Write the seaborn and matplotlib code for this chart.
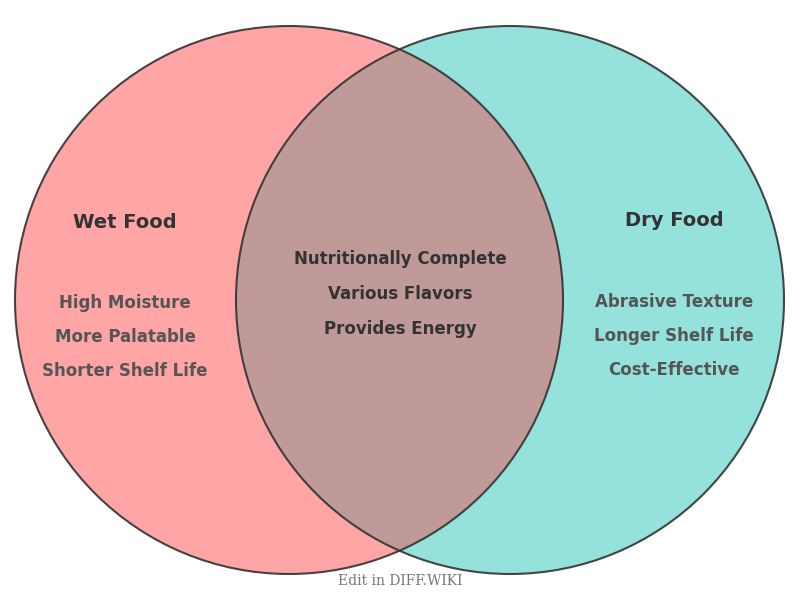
import matplotlib
matplotlib.use("Agg")
import matplotlib.pyplot as plt
from matplotlib.patches import Circle
import seaborn as sns

sns.set_theme(style="white")
plt.rcParams['font.family'] = ['DejaVu Sans']

set_names = ["Wet Food", "Dry Food"]
wet_only = ["High Moisture", "More Palatable", "Shorter Shelf Life"]
dry_only = ["Abrasive Texture", "Longer Shelf Life", "Cost-Effective"]
shared = ["Nutritionally Complete", "Various Flavors", "Provides Energy"]

fig = plt.figure(figsize=(8, 6), dpi=100)
ax = fig.add_axes([0, 0, 1, 1])
ax.set_xlim(0, 800); ax.set_ylim(600, 0); ax.set_aspect('equal'); ax.axis('off')

r = 274
lc, rc = (289, 300), (510, 300)
ax.add_patch(Circle(lc, r, facecolor='#FFA5A5', edgecolor='none', zorder=1))
ax.add_patch(Circle(rc, r, facecolor='#95E1DC', edgecolor='none', zorder=1))
ov = Circle(lc, r, facecolor='#C09A98', edgecolor='none', zorder=2)
ax.add_patch(ov)
clip = Circle(rc, r, transform=ax.transData)
ov.set_clip_path(clip)
ax.add_patch(Circle(lc, r, facecolor='none', edgecolor='#333333', lw=1.5, zorder=3, alpha=0.9))
ax.add_patch(Circle(rc, r, facecolor='none', edgecolor='#333333', lw=1.5, zorder=3, alpha=0.9))

ax.text(125, 222, set_names[0], ha='center', va='center', fontsize=14, fontweight='bold', color='#333333', zorder=4)
ax.text(674, 221, set_names[1], ha='center', va='center', fontsize=14, fontweight='bold', color='#333333', zorder=4)
for i, t in enumerate(wet_only):
    ax.text(125, 303 + 34 * i, t, ha='center', va='center', fontsize=12, fontweight='bold', color='#555555', zorder=4)
for i, t in enumerate(dry_only):
    ax.text(674, 302 + 34 * i, t, ha='center', va='center', fontsize=12, fontweight='bold', color='#555555', zorder=4)
for i, t in enumerate(shared):
    ax.text(400, 259 + 35 * i, t, ha='center', va='center', fontsize=12, fontweight='bold', color='#333333', zorder=4)

ax.text(400, 581, "Edit in DIFF.WIKI", ha='center', va='center', fontsize=10, color='#777777', family='DejaVu Serif', zorder=4)

fig.savefig("out.png", dpi=100)
